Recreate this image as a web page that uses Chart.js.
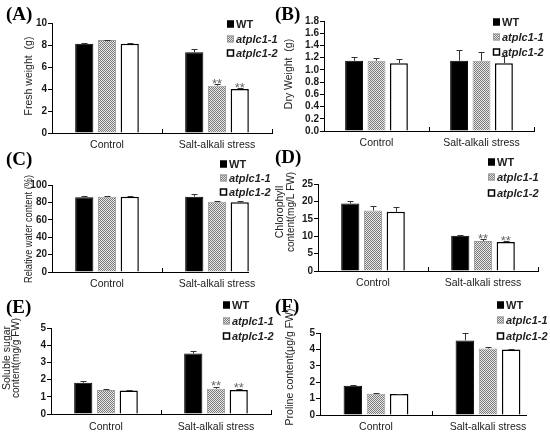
<!DOCTYPE html>
<html>
<head>
<meta charset="utf-8">
<script src="https://cdn.jsdelivr.net/npm/chart.js@4.4.0/dist/chart.umd.min.js"></script>
<style>
  html, body { margin: 0; padding: 0; background: #fff; }
  #wrap { position: relative; width: 550px; height: 437px; }
  #wrap canvas { position: absolute; left: 0; top: 0; }
</style>
</head>
<body>
<div id="wrap">
  <canvas id="pA" width="550" height="437"></canvas>
  <canvas id="pB" width="550" height="437"></canvas>
  <canvas id="pC" width="550" height="437"></canvas>
  <canvas id="pD" width="550" height="437"></canvas>
  <canvas id="pE" width="550" height="437"></canvas>
  <canvas id="pF" width="550" height="437"></canvas>
</div>
<script>
const groups = ["Control", "Salt-alkali stress"];
const lines = ["WT", "atplc1-1", "atplc1-2"];

// (A) fresh weight (g)
const freshWT = [8.12, 7.33];
const freshL1 = [8.45, 4.3];
const freshL2 = [8.12, 4.0];
const freshErr = [[0.06, 0.27], [0.05, 0.12], [0.05, 0.06]];
const freshMarks = [["", ""], ["", "**"], ["", "**"]];
const freshTicks = [0, 2, 4, 6, 8, 10];

// (B) dry weight (g)
const dryWT = [1.15, 1.15];
const dryL1 = [1.15, 1.15];
const dryL2 = [1.11, 1.11];
const dryErr = [[0.055, 0.175], [0.05, 0.15], [0.065, 0.11]];
const dryMarks = [["", ""], ["", ""], ["", ""]];
const dryTicks = [0, 0.2, 0.4, 0.6, 0.8, 1.0, 1.2, 1.4, 1.6, 1.8];

// (C) relative water content (%)
const waterWT = [85.8, 86.6];
const waterL1 = [86.4, 80.8];
const waterL2 = [86.6, 80.1];
const waterErr = [[1.0, 2.5], [0.6, 0.8], [0.3, 2.0]];
const waterMarks = [["", ""], ["", ""], ["", ""]];
const waterTicks = [0, 20, 40, 60, 80, 100];

// (D) chlorophyll content (mg/L FW)
const chlWT = [19.4, 10.15];
const chlL1 = [17.4, 8.6];
const chlL2 = [17.0, 8.3];
const chlErr = [[0.8, 0.1], [1.2, 0.5], [1.4, 0.2]];
const chlMarks = [["", ""], ["", "**"], ["", "**"]];
const chlTicks = [0, 5, 10, 15, 20, 25];

// (E) soluble sugar content (mg/g FW)
const sugarWT = [1.82, 3.52];
const sugarL1 = [1.39, 1.47];
const sugarL2 = [1.36, 1.4];
const sugarErr = [[0.1, 0.13], [0.04, 0.12], [0.03, 0.07]];
const sugarMarks = [["", ""], ["", "**"], ["", "**"]];
const sugarTicks = [0, 1, 2, 3, 4, 5];

// (F) proline content (μg/g FW)
const proWT = [1.79, 4.55];
const proL1 = [1.29, 4.05];
const proL2 = [1.28, 4.0];
const proErr = [[0.05, 0.45], [0.03, 0.1], [0.02, 0.03]];
const proMarks = [["", ""], ["", ""], ["", ""]];
const proTicks = [0, 1, 2, 3, 4, 5];

const W = 550, H = 437;
const SANS = "'Liberation Sans', Arial, sans-serif";
const SERIF = "'Liberation Serif', 'Times New Roman', serif";

const panels = [
  { id: "pA", tag: "(A)", tagAt: [6, 15], data: [freshWT, freshL1, freshL2], err: freshErr, marks: freshMarks,
    ticks: freshTicks, dec: 0, title: ["Fresh weight  (g)"], titleX: [29], titleY: 76, titleMax: 84,
    area: { l: 52, r: 272, t: 23, b: 133 }, labelPad: 10, cat: 0.62, legX: 227, legY: [24, 39, 53], clipX: null },
  { id: "pB", tag: "(B)", tagAt: [275, 15], data: [dryWT, dryL1, dryL2], err: dryErr, marks: dryMarks,
    ticks: dryTicks, dec: 1, title: ["Dry Weight  (g)"], titleX: [289], titleY: 74, titleMax: 86,
    area: { l: 324, r: 534, t: 21, b: 131 }, labelPad: 10, cat: 0.64, legX: 493, legY: [22, 37, 52], clipX: null },
  { id: "pC", tag: "(C)", tagAt: [6, 160], data: [waterWT, waterL1, waterL2], err: waterErr, marks: waterMarks,
    ticks: waterTicks, dec: 0, title: ["Relative water content (%)"], titleX: [29], titleY: 229, titleMax: 108,
    area: { l: 52, r: 272, t: 185, b: 272 }, labelPad: 10, cat: 0.62, legX: 220, legY: [164, 178, 192], clipX: 249 },
  { id: "pD", tag: "(D)", tagAt: [275, 158], data: [chlWT, chlL1, chlL2], err: chlErr, marks: chlMarks,
    ticks: chlTicks, dec: 0, title: ["Chlorophyll", "content(mg/L FW)"], titleX: [280, 291], titleY: 212, titleMax: 80,
    area: { l: 318, r: 538, t: 184, b: 271 }, labelPad: 10, cat: 0.62, legX: 488, legY: [162, 177, 193], clipX: null },
  { id: "pE", tag: "(E)", tagAt: [6, 308], data: [sugarWT, sugarL1, sugarL2], err: sugarErr, marks: sugarMarks,
    ticks: sugarTicks, dec: 0, title: ["Soluble sugar", "content(mg/g FW)"], titleX: [7, 16], titleY: 358, titleMax: 80,
    area: { l: 51, r: 271, t: 328, b: 414 }, labelPad: 11, cat: 0.62, legX: 223, legY: [305, 321, 336], clipX: null },
  { id: "pF", tag: "(F)", tagAt: [275, 307], data: [proWT, proL1, proL2], err: proErr, marks: proMarks,
    ticks: proTicks, dec: 0, title: ["Proline content(\u03bcg/g FW)"], titleX: [290], titleY: 367, titleMax: 122,
    area: { l: 320, r: 544, t: 333, b: 415 }, labelPad: 10, cat: 0.62, legX: 497, legY: [305, 320, 336], clipX: 527 },
];

// grey checker fill used for atplc1-1
function checker(ctx) {
  const c = document.createElement("canvas");
  c.width = 4; c.height = 4;
  const g = c.getContext("2d");
  g.fillStyle = "#e8e8e8";
  g.fillRect(0, 0, 4, 4);
  g.fillStyle = "#7a7a7a";
  for (let y = 0; y < 4; y++)
    for (let x = 0; x < 4; x++)
      if ((x + y) % 2 === 0) g.fillRect(x, y, 1, 1);
  return ctx.createPattern(c, "repeat");
}

const decor = {
  id: "decor",
  beforeDraw(chart, args, o) {
    const ctx = chart.ctx;
    ctx.save();
    if (o.clipX) {
      // the original panel was cropped: hide the axis line past the last bar
      const b = chart.chartArea.bottom;
      ctx.beginPath();
      ctx.rect(0, 0, W, H);
      ctx.rect(o.clipX, b - 6, W - o.clipX, 8);
      ctx.clip("evenodd");
    }
  },
  afterDatasetsDraw(chart, args, o) {
    const ctx = chart.ctx;
    ctx.restore();
    const ys = chart.scales.y;
    // error bars (upper half) and significance marks
    chart.data.datasets.forEach((ds, i) => {
      chart.getDatasetMeta(i).data.forEach((bar, j) => {
        const top = ys.getPixelForValue(ds.data[j] + o.err[i][j]);
        ctx.strokeStyle = "#333";
        ctx.lineWidth = 1;
        ctx.beginPath();
        ctx.moveTo(Math.round(bar.x) + 0.5, bar.y);
        ctx.lineTo(Math.round(bar.x) + 0.5, Math.round(top) + 0.5);
        ctx.moveTo(Math.round(bar.x) - 2.5, Math.round(top) + 0.5);
        ctx.lineTo(Math.round(bar.x) + 3.5, Math.round(top) + 0.5);
        ctx.stroke();
        const m = o.marks[i][j];
        if (m) {
          ctx.fillStyle = "#666";
          ctx.font = "13px " + SANS;
          ctx.textAlign = "center";
          ctx.textBaseline = "alphabetic";
          ctx.fillText(m, bar.x, top + 3.5);
        }
      });
    });
  },
  afterDraw(chart, args, o) {
    const ctx = chart.ctx;
    ctx.save();
    // panel letter
    ctx.fillStyle = "#000";
    ctx.font = "bold 19px " + SERIF;
    ctx.textAlign = "left";
    ctx.textBaseline = "middle";
    ctx.fillText(o.tag, o.tagAt[0], o.tagAt[1]);
    // y title
    ctx.fillStyle = "#222";
    ctx.font = "10.5px " + SANS;
    ctx.textAlign = "center";
    o.title.forEach((t, k) => {
      ctx.save();
      ctx.translate(o.titleX[k], o.titleY);
      ctx.rotate(-Math.PI / 2);
      ctx.fillText(t, 0, 0, o.titleMax);
      ctx.restore();
    });
    // legend
    const ds = chart.data.datasets;
    ds.forEach((d, i) => {
      const y = o.legY[i];
      const x = o.legX;
      ctx.fillStyle = d.backgroundColor;
      ctx.fillRect(x, y - 3.5, 7, 7);
      ctx.strokeStyle = d.borderColor;
      ctx.lineWidth = i === 2 ? 1.5 : 1;
      ctx.strokeRect(x + 0.5, y - 3, 6, 6);
      ctx.fillStyle = "#222";
      ctx.font = (i === 0 ? "bold " : "italic bold ") + "11px " + SANS;
      ctx.textAlign = "left";
      ctx.fillText(d.label, x + 9, y + 0.5);
    });
    ctx.restore();
  },
};

panels.forEach((p) => {
  const canvas = document.getElementById(p.id);
  const ctx = canvas.getContext("2d");
  const fills = ["#000", checker(ctx), "#fff"];
  const edges = ["#000", "#9a9a9a", "#000"];
  const widths = [1, 1, 1.5];
  const yW = 40, xH = 26;

  new Chart(ctx, {
    type: "bar",
    data: {
      labels: groups,
      datasets: lines.map((name, i) => ({
        label: name,
        data: p.data[i],
        backgroundColor: fills[i],
        borderColor: edges[i],
        borderWidth: widths[i],
        borderSkipped: "start",
        barPercentage: 0.8,
        categoryPercentage: p.cat,
      })),
    },
    options: {
      responsive: false,
      animation: false,
      events: [],
      layout: {
        padding: { left: p.area.l - yW, right: W - p.area.r, top: p.area.t, bottom: H - p.area.b - xH },
      },
      plugins: {
        legend: { display: false },
        tooltip: { enabled: false },
        decor: { tag: p.tag, tagAt: p.tagAt, err: p.err, marks: p.marks, title: p.title, titleX: p.titleX,
                 titleY: p.titleY, titleMax: p.titleMax, legX: p.legX, legY: p.legY, clipX: p.clipX },
      },
      scales: {
        x: {
          offset: true,
          grid: { offset: true, drawOnChartArea: false, tickLength: -4, color: "#000" },
          border: { color: "#000", width: 1 },
          ticks: { color: "#1a1a1a", font: { family: SANS, size: 10.5 }, padding: p.labelPad, maxRotation: 0, autoSkip: false },
          afterFit: (s) => { s.height = xH; },
        },
        y: {
          min: p.ticks[0],
          max: p.ticks[p.ticks.length - 1],
          afterBuildTicks: (s) => { s.ticks = p.ticks.map((v) => ({ value: v })); },
          grid: { drawOnChartArea: false, tickLength: 4, color: "#000" },
          border: { color: "#000", width: 1 },
          ticks: { color: "#1a1a1a", font: { family: SANS, size: 10, weight: "bold" }, padding: 1, autoSkip: false,
                   callback: (v) => Number(v).toFixed(p.dec) },
          afterFit: (s) => { s.width = yW; },
        },
      },
    },
    plugins: [decor],
  });
});
</script>
</body>
</html>
